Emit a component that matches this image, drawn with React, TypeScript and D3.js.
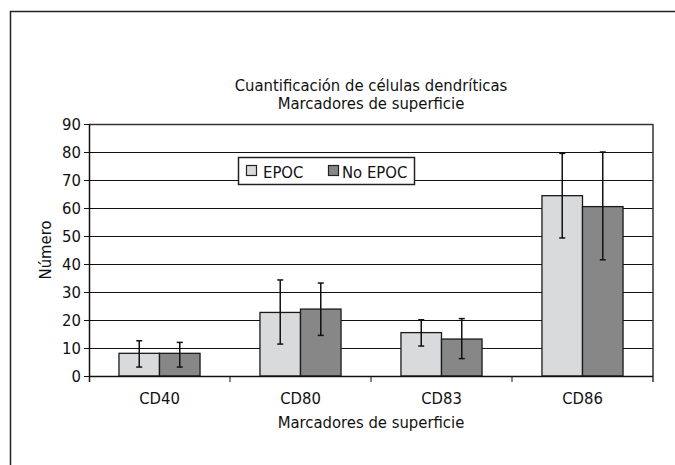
import React from "react";
import * as d3 from "d3";

const categories = ["CD40", "CD80", "CD83", "CD86"];
const seriesNames = ["EPOC", "No EPOC"];
const epocValues = [8.1, 22.7, 15.5, 64.4];
const epocUpper = [12.6, 34.3, 20.1, 79.5];
const epocLower = [3.2, 11.4, 10.7, 49.3];
const noEpocValues = [8.1, 23.9, 13.2, 60.5];
const noEpocUpper = [12.0, 33.2, 20.5, 80.0];
const noEpocLower = [3.2, 14.5, 6.2, 41.5];
const yTicks = [0, 10, 20, 30, 40, 50, 60, 70, 80, 90];

const W = 675;
const H = 465;
const FONT = "'DejaVu Sans Condensed', 'Liberation Sans Narrow', sans-serif";
const FS = 16.5;
const COLORS = ["#d9dadc", "#878787"];

export default function App() {
  const left = 89, right = 653, top = 124, bottom = 376;
  const x = d3.scaleBand<string>().domain(categories).range([left, right]).paddingInner(0.425).paddingOuter(0.2125);
  const xs = d3.scaleBand<string>().domain(seriesNames).range([0, x.bandwidth()]);
  const y = d3.scaleLinear().domain([0, 90]).range([bottom, top]);

  const series = [
    { name: seriesNames[0], vals: epocValues, up: epocUpper, lo: epocLower, color: COLORS[0] },
    { name: seriesNames[1], vals: noEpocValues, up: noEpocUpper, lo: noEpocLower, color: COLORS[1] },
  ];
  const step = (right - left) / categories.length;

  return (
    <svg width={W} height={H} style={{ position: "absolute", left: 0, top: 0, background: "#fff" }} fontFamily={FONT}>
      <rect x={0} y={0} width={W} height={H} fill="#fff" />
      <rect x={10.5} y={11.5} width={700} height={500} fill="none" stroke="#222" strokeWidth={1.5} />
      <text x={(left + right) / 2} y={91} textAnchor="middle" fontSize={FS} fill="#111">Cuantificación de células dendríticas</text>
      <text x={(left + right) / 2} y={109} textAnchor="middle" fontSize={FS} fill="#111">Marcadores de superficie</text>

      {yTicks.map((t) => (
        <g key={t}>
          {t > 0 && t < 90 && (
            <line x1={left} x2={right} y1={Math.round(y(t)) + 0.5} y2={Math.round(y(t)) + 0.5} stroke="#111" strokeWidth={1} />
          )}
          <line x1={left - 5} x2={left} y1={Math.round(y(t)) + 0.5} y2={Math.round(y(t)) + 0.5} stroke="#111" strokeWidth={1} />
          <text x={left - 8} y={y(t) + 6} textAnchor="end" fontSize={FS} fill="#111">{t}</text>
        </g>
      ))}
      <line x1={left} x2={right} y1={top + 0.5} y2={top + 0.5} stroke="#333" strokeWidth={1.5} />
      <line x1={right} x2={right} y1={top} y2={bottom + 6} stroke="#333" strokeWidth={1.5} />

      {categories.map((c, i) => (
        <g key={c}>
          {series.map((s) => {
            const bx = (x(c) as number) + (xs(s.name) as number);
            const bw = xs.bandwidth();
            const cx = bx + bw / 2;
            return (
              <g key={s.name}>
                <rect x={bx} y={y(s.vals[i])} width={bw} height={bottom - y(s.vals[i])} fill={s.color} stroke="#1a1a1a" strokeWidth={1.3} />
                <line x1={cx} x2={cx} y1={y(s.up[i])} y2={y(s.lo[i])} stroke="#111" strokeWidth={1.5} />
                <line x1={cx - 3} x2={cx + 3} y1={y(s.up[i])} y2={y(s.up[i])} stroke="#111" strokeWidth={1.5} />
                <line x1={cx - 3} x2={cx + 3} y1={y(s.lo[i])} y2={y(s.lo[i])} stroke="#111" strokeWidth={1.5} />
              </g>
            );
          })}
          <text x={(x(c) as number) + x.bandwidth() / 2} y={404} textAnchor="middle" fontSize={FS} fill="#111">{c}</text>
          {i > 0 && (
            <line x1={left + step * i} x2={left + step * i} y1={bottom} y2={bottom + 6} stroke="#111" strokeWidth={1} />
          )}
        </g>
      ))}

      <line x1={left} x2={right} y1={bottom + 0.5} y2={bottom + 0.5} stroke="#111" strokeWidth={1.5} />
      <line x1={left + 0.5} x2={left + 0.5} y1={top} y2={bottom + 6} stroke="#111" strokeWidth={1.5} />

      <text x={(left + right) / 2} y={428} textAnchor="middle" fontSize={FS} fill="#111">Marcadores de superficie</text>
      <text transform={`translate(51, ${(top + bottom) / 2}) rotate(-90)`} textAnchor="middle" fontSize={FS} fill="#111">Número</text>

      <g>
        <rect x={238.5} y={157.5} width={176} height={27} fill="#fff" stroke="#222" strokeWidth={1.5} />
        <rect x={246.5} y={165.5} width={10} height={10} fill={COLORS[0]} stroke="#222" strokeWidth={1.2} />
        <text x={263} y={177.5} fontSize={FS} fill="#111">{seriesNames[0]}</text>
        <rect x={328.5} y={165.5} width={10} height={10} fill={COLORS[1]} stroke="#222" strokeWidth={1.2} />
        <text x={342} y={177.5} fontSize={FS} fill="#111">{seriesNames[1]}</text>
      </g>
    </svg>
  );
}
